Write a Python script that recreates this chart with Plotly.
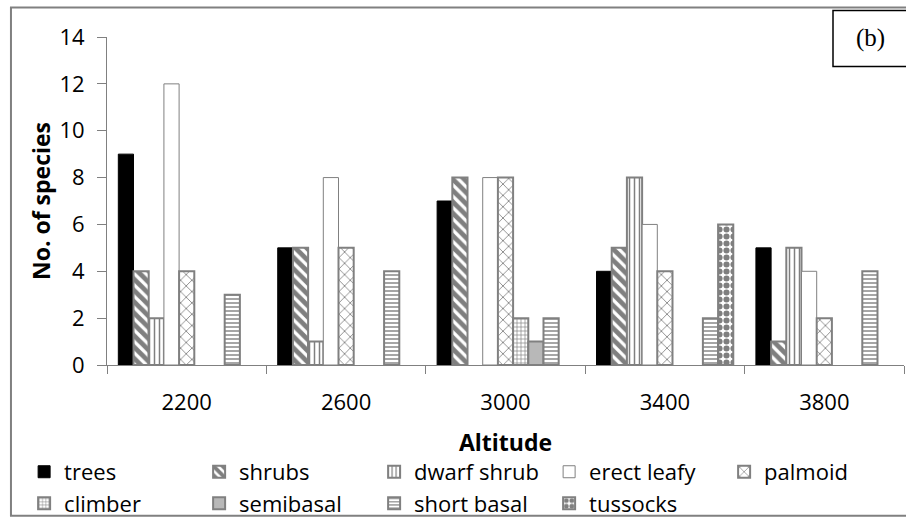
import plotly.graph_objects as go

# Number of species per life form along the altitude gradient
altitudes = ["2200", "2600", "3000", "3400", "3800"]
trees = [9, 5, 7, 4, 5]
shrubs = [4, 5, 8, 5, 1]
dwarf_shrub = [2, 1, 0, 8, 5]
erect_leafy = [12, 8, 8, 6, 4]
palmoid = [4, 5, 8, 4, 2]
climber = [0, 0, 2, 0, 0]
semibasal = [0, 0, 1, 0, 0]
short_basal = [3, 4, 2, 2, 4]
tussocks = [0, 0, 0, 6, 0]

GRAY = "#808080"
FONT = "Open Sans"


def hatch(shape, size, solidity, fg="black"):
    return dict(shape=shape, fgcolor=fg, bgcolor="white", size=size, solidity=solidity)


series = [
    ("trees", trees, dict(color="black", line=dict(color="black", width=1))),
    ("shrubs", shrubs, dict(color="white", line=dict(color=GRAY, width=2), pattern=hatch("\\", 8, 0.6))),
    ("dwarf shrub", dwarf_shrub, dict(color="white", line=dict(color=GRAY, width=2), pattern=hatch("|", 5, 0.3))),
    ("erect leafy", erect_leafy, dict(color="white", line=dict(color=GRAY, width=1))),
    ("palmoid", palmoid, dict(color="white", line=dict(color=GRAY, width=2), pattern=hatch("x", 8, 0.2))),
    ("climber", climber, dict(color="white", line=dict(color=GRAY, width=2), pattern=hatch("+", 4, 0.3))),
    ("semibasal", semibasal, dict(color="white", line=dict(color=GRAY, width=2), pattern=hatch(".", 2, 0.7, "#333333"))),
    ("short basal", short_basal, dict(color="white", line=dict(color=GRAY, width=2), pattern=hatch("-", 4, 0.35))),
    ("tussocks", tussocks, dict(color="white", line=dict(color=GRAY, width=2), pattern=hatch(".", 7, 0.6))),
]

fig = go.Figure()
for name, vals, marker in series:
    # zero counts are left empty so no outline is drawn on the baseline
    fig.add_trace(go.Bar(name=name, x=altitudes, y=[v if v else None for v in vals], marker=marker))

fig.update_layout(
    width=906, height=527,
    margin=dict(l=107, r=2, t=37, b=156),
    paper_bgcolor="white", plot_bgcolor="white",
    barmode="group", bargap=0.142, bargroupgap=0,
    font=dict(family=FONT, color="black", size=22),
    showlegend=True,
    legend=dict(
        orientation="h", x=-0.104, xanchor="left", y=-0.262, yanchor="top",
        entrywidth=130, entrywidthmode="pixels",
        bgcolor="rgba(0,0,0,0)",
        font=dict(family=FONT, size=22, color="black"),
        traceorder="normal",
    ),
    xaxis=dict(
        type="category", tickson="boundaries", ticks="outside", ticklen=8,
        tickcolor=GRAY, showline=True, linecolor=GRAY, linewidth=1,
        showgrid=False, tickfont=dict(size=22), ticklabelstandoff=18,
        title=dict(text="<b>Altitude</b>", font=dict(size=23), standoff=19),
    ),
    yaxis=dict(
        range=[0, 14], dtick=2, ticks="outside", ticklen=9,
        tickcolor=GRAY, showline=True, linecolor=GRAY, linewidth=1,
        showgrid=False, zeroline=False, tickfont=dict(size=22),
        ticklabelstandoff=8,
        title=dict(text="<b>No. of species</b>", font=dict(size=23), standoff=2),
    ),
)

# Outer frame around the whole chart
fig.add_shape(type="rect", xref="paper", yref="paper",
              x0=-0.1205, x1=1.01, y0=(371 - 524.5) / 334, y1=1.0898,
              line=dict(color=GRAY, width=2), fillcolor="rgba(0,0,0,0)", layer="above")

# Panel label box
fig.add_shape(type="rect", xref="paper", yref="paper",
              x0=(833 - 107) / 797, x1=1.01, y0=(371 - 67) / 334, y1=(371 - 10) / 334,
              line=dict(color="black", width=1.5), fillcolor="white", layer="above")
fig.add_annotation(text="(b)", xref="paper", yref="paper",
                   x=(870 - 107) / 797, y=(371 - 38) / 334, xanchor="center", yanchor="middle",
                   showarrow=False,
                   font=dict(family="Liberation Serif", size=25, color="black"))

fig.write_html("out.html")
